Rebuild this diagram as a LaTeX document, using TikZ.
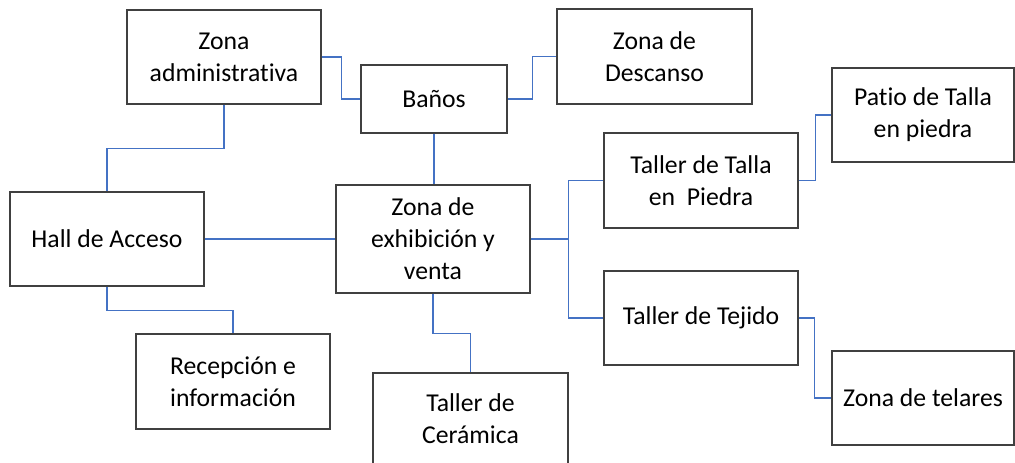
\documentclass[tikz,border=0pt]{standalone}
\usepackage{fontspec}
\setmainfont[Ligatures=CommonOff]{Carlito}
\usepackage{xcolor}
\definecolor{linkblue}{RGB}{68, 114, 196}
\definecolor{boxline}{RGB}{64, 64, 64}
\usepackage{tikz}
\usetikzlibrary{positioning,calc}

\begin{document}
\begin{tikzpicture}[
    x=1pt, y=-1pt,
    zone/.style={draw=boxline, line width=1.2pt, rectangle, minimum width=194pt, minimum height=94pt, align=center, fill=white, font=\fontsize{25.7}{32}\selectfont, inner sep=0pt},
    link/.style={draw=linkblue, line width=1.1pt}
]
\clip (0,0) rectangle (1015,463);

% Zones
\node[zone] (admin) at (224,57) {Zona\\administrativa};
\node[zone, minimum width=146pt, minimum height=68pt] (banos) at (434,99) {Baños};
\node[zone, minimum width=195pt, minimum height=95pt] (descanso) at (654.5,56.5) {Zona de\\Descanso};
\node[zone, minimum width=182pt] (patio) at (923,115) {Patio de Talla\\en piedra};
\node[zone, minimum height=95pt] (talla) at (701,180.5) {Taller de Talla\\en\ \ Piedra};
\node[zone] (hall) at (107,239) {Hall de Acceso};
\node[zone, minimum height=108pt] (exhib) at (433,239) {Zona de\\exhibición y\\venta};
\node[zone] (tejido) at (701,318) {Taller de Tejido};
\node[zone, minimum height=95pt] (recep) at (233,381.5) {Recepción e\\información};
\node[zone, minimum width=195pt, minimum height=92pt] (ceramica) at (470.5,419) {Taller de\\Cerámica};
\node[zone, minimum width=182pt] (telares) at (923,398) {Zona de telares};

% Links
\draw[link] (admin.south) -- ++(0,44) -| (hall.north);
\draw[link] (admin.east) -- ++(20,0) |- (banos.west);
\draw[link] (banos.east) -- ++(25,0) |- (descanso.west);
\draw[link] (banos.south) -- (banos.south |- exhib.north);
\draw[link] (hall.east) -- (exhib.west);
\draw[link] (hall.south) -- ++(0,24) -| (recep.north);
\draw[link] (exhib.south) -- ++(0,40) -| (ceramica.north);
\draw[link] (exhib.east) -- ++(38,0) coordinate (split);
\draw[link] (split) |- (talla.west);
\draw[link] (split) |- (tejido.west);
\draw[link] (talla.east) -- ++(17,0) |- (patio.west);
\draw[link] (tejido.east) -- ++(16,0) |- (telares.west);

\end{tikzpicture}
\end{document}
